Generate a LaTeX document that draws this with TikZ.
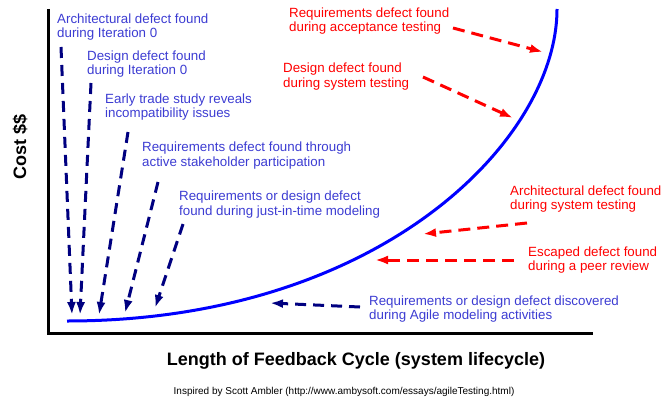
\documentclass[tikz,border=0pt]{standalone}
\usepackage{fontspec}
\setmainfont{Liberation Sans}
\usetikzlibrary{arrows.meta}

\definecolor{noteblue}{RGB}{60,60,210}
\definecolor{arrownavy}{RGB}{0,0,128}
\definecolor{curveblue}{RGB}{0,0,255}
\definecolor{notered}{RGB}{255,0,0}

\begin{document}
\begin{tikzpicture}[x=1pt,y=-1pt,
    bluenote/.style={anchor=west,align=left,inner sep=0pt,text=noteblue,
        font=\fontsize{13.33}{14.5}\selectfont},
    rednote/.style={bluenote,text=notered},
    earlyfix/.style={line width=3pt,-{Latex[length=13pt,width=9pt]},arrownavy,
        dash pattern=on 11pt off 7pt},
    latefix/.style={line width=3pt,-{Latex[length=13pt,width=9pt]},notered,
        dash pattern=on 12pt off 7pt}]

    \useasboundingbox (0,0) rectangle (668,401);

    \coordinate (Origin) at (48,333);
    \coordinate (yTop) at (48,9);
    \coordinate (xEnd) at (593,333);
    \coordinate (curveStart) at (67,321);
    \coordinate (curveEnd) at (557,9);

    \draw [line width=3pt] (yTop) -- (Origin) -- (xEnd);
    \draw [line width=3pt,curveblue] (curveStart)
        .. controls (380,321) and (557,140) .. (curveEnd);

    \node (costLabel) [rotate=90,font=\fontsize{18}{18}\selectfont\bfseries] at (20,147) {Cost \$\$};
    \node (lengthLabel) [font=\fontsize{18}{18}\selectfont\bfseries] at (356,361)
        {Length of Feedback Cycle (system lifecycle)};
    \node (credit) [font=\fontsize{10}{10}\selectfont] at (344,392)
        {Inspired by Scott Ambler (http://www.ambysoft.com/essays/agileTesting.html)};

    % early feedback
    \node (archZero) [bluenote] at (57,27) {Architectural defect found\\during Iteration 0};
    \node (designZero) [bluenote] at (87,64) {Design defect found\\during Iteration 0};
    \node (tradeStudy) [bluenote] at (105,107) {Early trade study reveals\\incompatibility issues};
    \node (stakeholder) [bluenote] at (142,155.5) {Requirements defect found through\\active stakeholder participation};
    \node (jitModel) [bluenote] at (179,204.5) {Requirements or design defect\\found during just-in-time modeling};
    \node (agileModel) [bluenote] at (369,309) {Requirements or design defect discovered\\during Agile modeling activities};

    % late feedback
    \node (acceptTest) [rednote] at (289,21) {Requirements defect found\\during acceptance testing};
    \node (sysTest) [rednote] at (283,76.5) {Design defect found\\during system testing};
    \node (archSys) [rednote] at (510,199) {Architectural defect found\\during system testing};
    \node (peerReview) [rednote] at (528,260) {Escaped defect found\\during a peer review};

    \coordinate (archZeroTail) at (61,47);
    \coordinate (archZeroTip) at (72,315);
    \coordinate (designZeroTail) at (91,83);
    \coordinate (designZeroTip) at (80,315);
    \coordinate (tradeTail) at (128,132);
    \coordinate (tradeTip) at (99,315);
    \coordinate (stakeTail) at (158,182);
    \coordinate (stakeTip) at (125,313);
    \coordinate (jitTail) at (183,224);
    \coordinate (jitTip) at (155,308);
    \coordinate (agileTail) at (360,307);
    \coordinate (agileTip) at (270,303);

    \coordinate (acceptTail) at (453,28);
    \coordinate (acceptTip) at (543,52);
    \coordinate (sysTail) at (423,77);
    \coordinate (sysTip) at (513,118);
    \coordinate (archSysTail) at (527,223);
    \coordinate (archSysTip) at (423,234);
    \coordinate (peerTail) at (514,260);
    \coordinate (peerTip) at (375,260);

    \draw [earlyfix] (archZeroTail) -- (archZeroTip);
    \draw [earlyfix] (designZeroTail) -- (designZeroTip);
    \draw [earlyfix] (tradeTail) -- (tradeTip);
    \draw [earlyfix] (stakeTail) -- (stakeTip);
    \draw [earlyfix] (jitTail) -- (jitTip);
    \draw [earlyfix] (agileTail) -- (agileTip);

    \draw [latefix] (acceptTail) -- (acceptTip);
    \draw [latefix] (sysTail) -- (sysTip);
    \draw [latefix] (archSysTail) -- (archSysTip);
    \draw [latefix] (peerTail) -- (peerTip);

\end{tikzpicture}
\end{document}
